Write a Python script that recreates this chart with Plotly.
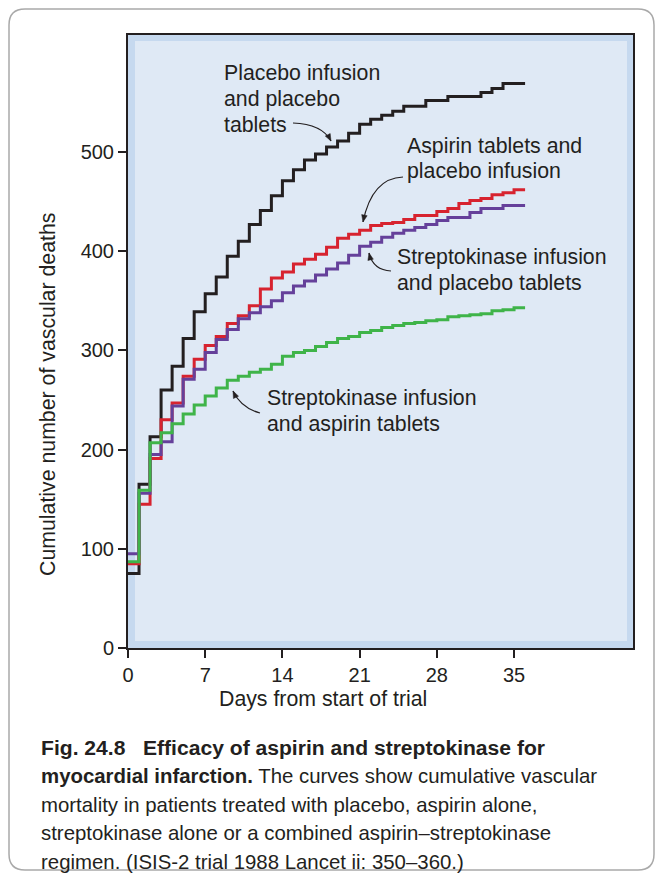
import plotly.graph_objects as go

# Days since randomisation (each value holds until the next day)
days = list(range(0, 37))

# Cumulative vascular deaths at the start of each day 0..35
placebo_both = [75, 165, 213, 260, 284, 312, 339, 357, 374, 395, 410, 427,
                441, 456, 471, 482, 492, 498, 505, 511, 519, 528, 533, 537,
                541, 546, 546, 552, 552, 556, 556, 556, 560, 564, 569, 569]
aspirin_only = [85, 145, 191, 230, 247, 274, 291, 305, 314, 327, 335, 345,
                362, 373, 379, 387, 392, 397, 404, 413, 417, 421, 426, 428,
                429, 432, 436, 436, 440, 443, 448, 451, 453, 457, 459, 462]
sk_only = [95, 156, 195, 208, 244, 271, 281, 298, 311, 321, 332, 338,
           344, 350, 358, 365, 370, 376, 382, 388, 396, 405, 409, 414,
           418, 421, 424, 427, 431, 434, 434, 439, 443, 443, 446, 446]
sk_aspirin = [87, 159, 207, 217, 226, 236, 245, 254, 262, 270, 274, 278,
              281, 286, 294, 298, 300, 304, 308, 312, 314, 318, 320, 323,
              325, 327, 328, 330, 331, 334, 335, 336, 337, 340, 341, 343]

series_names = ["Placebo infusion and placebo tablets",
                "Aspirin tablets and placebo infusion",
                "Streptokinase infusion and placebo tablets",
                "Streptokinase infusion and aspirin tablets"]
series_values = [placebo_both, aspirin_only, sk_only, sk_aspirin]
series_colors = ["#231f20", "#d7232f", "#65409a", "#3fb449"]

x_ticks = [0, 7, 14, 21, 28, 35]
y_ticks = [0, 100, 200, 300, 400, 500]

FONT = "Liberation Sans, Arial, Helvetica, sans-serif"
INK = "#231f20"

W, H = 656, 877
L, R, T, B = 128, 633, 35, 648
X_MAX = (R - L) / 11.03
Y_MAX = (B - T) / 0.992


def fx(px):
    return (px - L) / (R - L)


def fy(py):
    return (B - py) / (B - T)


fig = go.Figure()
for name, vals, col in zip(series_names, series_values, series_colors):
    fig.add_trace(go.Scatter(
        x=days, y=vals + [vals[-1]], mode="lines", name=name,
        line=dict(color=col, width=3, shape="hv"), showlegend=False,
        hoverinfo="skip"))

shapes = []
# light inner panel inside the blue border band
shapes.append(dict(type="rect", xref="paper", yref="paper", layer="below",
                   x0=fx(135), x1=fx(627), y0=fy(641), y1=fy(41),
                   line=dict(width=0), fillcolor="#dfe9f5"))

# rounded card outline around the whole figure
cx0, cy0, cx1, cy1, rad = 9, 9, 654, 870, 16
pts = (f"M {fx(cx0 + rad)},{fy(cy0)} L {fx(cx1 - rad)},{fy(cy0)} "
       f"Q {fx(cx1)},{fy(cy0)} {fx(cx1)},{fy(cy0 + rad)} "
       f"L {fx(cx1)},{fy(cy1 - rad)} Q {fx(cx1)},{fy(cy1)} {fx(cx1 - rad)},{fy(cy1)} "
       f"L {fx(cx0 + rad)},{fy(cy1)} Q {fx(cx0)},{fy(cy1)} {fx(cx0)},{fy(cy1 - rad)} "
       f"L {fx(cx0)},{fy(cy0 + rad)} Q {fx(cx0)},{fy(cy0)} {fx(cx0 + rad)},{fy(cy0)} Z")
shapes.append(dict(type="path", xref="paper", yref="paper", path=pts,
                   line=dict(color="#a9a9a9", width=1.5), layer="below"))

# curved pointer arrows from the labels to the curves
arrows = [((293, 123), (322, 124), (331, 141)),
          ((403, 177), (372, 178), (363, 222)),
          ((391, 271), (373, 270), (369, 253)),
          ((260, 413), (241, 408), (233, 391))]
for (sx, sy), (qx, qy), (ex, ey) in arrows:
    shapes.append(dict(type="path", xref="paper", yref="paper",
                       path=f"M {fx(sx)},{fy(sy)} Q {fx(qx)},{fy(qy)} {fx(ex)},{fy(ey)}",
                       line=dict(color=INK, width=1.2)))
    dx, dy = ex - qx, ey - qy
    n = (dx * dx + dy * dy) ** 0.5
    ux, uy = dx / n, dy / n
    hl, hw = 7, 2.8
    bx, by = ex - ux * hl, ey - uy * hl
    p1 = (bx - uy * hw, by + ux * hw)
    p2 = (bx + uy * hw, by - ux * hw)
    shapes.append(dict(type="path", xref="paper", yref="paper",
                       path=(f"M {fx(ex)},{fy(ey)} L {fx(p1[0])},{fy(p1[1])} "
                             f"L {fx(p2[0])},{fy(p2[1])} Z"),
                       fillcolor=INK, line=dict(color=INK, width=0.5)))

annotations = []


def text_lines(lines, x, y0, step, size):
    for i, ln in enumerate(lines):
        annotations.append(dict(
            xref="paper", yref="paper", x=fx(x), y=fy(y0 + i * step),
            xanchor="left", yanchor="middle", showarrow=False, align="left",
            text=ln, font=dict(family=FONT, size=size, color=INK)))


LABEL_SIZE = 21.3
text_lines(["Placebo infusion", "and placebo", "tablets"], 222, 73, 26, LABEL_SIZE)
text_lines(["Aspirin tablets and", "placebo infusion"], 405, 146, 25.5, LABEL_SIZE)
text_lines(["Streptokinase infusion", "and placebo tablets"], 395, 257, 25.5, LABEL_SIZE)
text_lines(["Streptokinase infusion", "and aspirin tablets"], 265, 398, 25.5, LABEL_SIZE)

# axis titles
annotations.append(dict(xref="paper", yref="paper", x=fx(48), y=fy(395),
                        xanchor="center", yanchor="middle", textangle=-90,
                        showarrow=False, text="Cumulative number of vascular deaths",
                        font=dict(family=FONT, size=21.3, color=INK)))
annotations.append(dict(xref="paper", yref="paper", x=fx(323), y=fy(699),
                        xanchor="center", yanchor="middle", showarrow=False,
                        text="Days from start of trial",
                        font=dict(family=FONT, size=21.3, color=INK)))

# figure caption: bold heading line, then the description
text_lines(["<b>Fig. 24.8   Efficacy of aspirin and streptokinase for</b>"],
           39, 747, 28.8, 21.1)
caption_body = ["<b>myocardial infarction.</b> The curves show cumulative vascular",
                "mortality in patients treated with placebo, aspirin alone,",
                "streptokinase alone or a combined aspirin\u2013streptokinase",
                "regimen. (ISIS-2 trial 1988 Lancet ii: 350\u2013360.)"]
text_lines(caption_body, 39, 775.8, 28.8, 20.4)

fig.update_layout(
    width=W, height=H, paper_bgcolor="white", plot_bgcolor="#c6d9ef",
    margin=dict(l=L, r=W - R, t=T, b=H - B, pad=0),
    shapes=shapes, annotations=annotations,
    xaxis=dict(range=[0, X_MAX], tickvals=x_ticks, ticks="outside", ticklen=8,
               tickwidth=2, tickcolor=INK, showline=True, linecolor=INK,
               linewidth=2, mirror=True, showgrid=False, zeroline=False,
               tickfont=dict(family=FONT, size=20, color=INK)),
    yaxis=dict(range=[0, Y_MAX], tickvals=y_ticks, ticks="outside", ticklen=8,
               tickwidth=2, tickcolor=INK, showline=True, linecolor=INK,
               linewidth=2, mirror=True, showgrid=False, zeroline=False,
               tickfont=dict(family=FONT, size=20, color=INK)),
)

fig.write_html("out.html")
